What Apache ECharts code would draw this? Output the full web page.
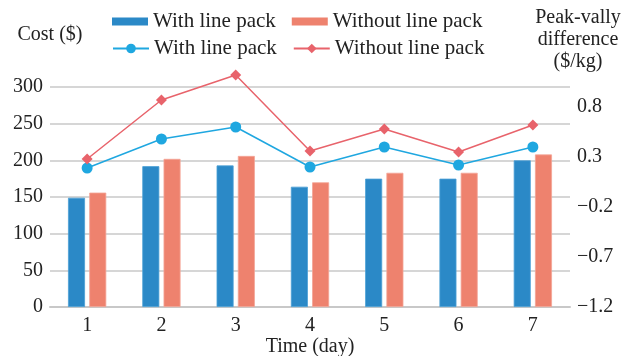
<!DOCTYPE html>
<html>
<head>
<meta charset="utf-8">
<script src="https://cdn.jsdelivr.net/npm/echarts@6/dist/echarts.min.js"></script>
<style>html,body{margin:0;padding:0;background:#fff}#c{width:638px;height:356px}</style>
</head>
<body>
<div id="c"></div>
<script>
var days = ['1','2','3','4','5','6','7'];
var costWith = [149, 192, 193, 164, 175, 175, 200];
var costWithout = [156, 202, 206, 170, 183, 183, 208];
var pvWith = [0.19, 0.48, 0.60, 0.20, 0.40, 0.22, 0.40];
var pvWithout = [0.28, 0.87, 1.12, 0.36, 0.58, 0.35, 0.62];
var legendLabels = {barWith:'With line pack', barWithout:'Without line pack', lineWith:'With line pack', lineWithout:'Without line pack'};

var FONT = 'Liberation Serif';
var TXT = '#222';
var chart = echarts.init(document.getElementById('c'));
chart.setOption({
  animation: false,
  textStyle: {fontFamily: FONT, color: TXT},
  legend: [{
    data: [{name:'barWith', icon:'rect'},{name:'barWithout', icon:'rect'}],
    left: 112, top: 11, padding: 0,
    itemWidth: 36, itemHeight: 8, itemGap: 16,
    itemStyle: {borderWidth: 0},
    formatter: function(n){return legendLabels[n];},
    textStyle: {fontFamily: FONT, fontSize: 21, color: TXT}
  },{
    data: ['lineWith','lineWithout'],
    left: 112, top: 38, padding: 0,
    itemWidth: 36, itemHeight: 12, itemGap: 16,
    formatter: function(n){return legendLabels[n];},
    textStyle: {fontFamily: FONT, fontSize: 21, color: TXT}
  }],
  grid: {left: 50, right: 68, top: 87, bottom: 49, containLabel: false, outerBoundsMode: 'none'},
  xAxis: {
    type: 'category', data: days,
    name: 'Time (day)', nameLocation: 'middle', nameGap: 30, nameMoveOverlap: false,
    nameTextStyle: {fontFamily: FONT, fontSize: 20, color: TXT},
    axisLine: {lineStyle: {color: '#c8c8c8', width: 2}},
    axisTick: {show: false},
    axisLabel: {fontFamily: FONT, fontSize: 20, color: TXT, margin: 9}
  },
  yAxis: [{
    type: 'value', min: 0, max: 300, interval: 50,
    name: 'Cost ($)', nameLocation: 'end', nameGap: 42,
    nameTextStyle: {fontFamily: FONT, fontSize: 20, color: TXT, align: 'center'},
    axisLine: {show: false}, axisTick: {show: false},
    axisLabel: {fontFamily: FONT, fontSize: 20, color: TXT, margin: 7},
    splitLine: {lineStyle: {color: '#c8c8c8', width: 1.5}}
  },{
    type: 'value', min: -1.2, max: 1.0, interval: 0.5,
    name: 'Peak-vally\ndifference\n($/kg)', nameLocation: 'end', nameGap: 14,
    nameTextStyle: {fontFamily: FONT, fontSize: 20, color: TXT, align: 'center', lineHeight: 22, padding: [0,0,0,16]},
    axisLine: {show: false}, axisTick: {show: false},
    axisLabel: {fontFamily: FONT, fontSize: 20, color: TXT, margin: 7, showMaxLabel: false,
      formatter: function(v){return v.toFixed(1).replace('-', '\u2212');}},
    splitLine: {show: false}
  }],
  series: [{
    name: 'barWith', type: 'bar', data: costWith, barWidth: 17, barGap: '25%',
    itemStyle: {color: '#2b89c7', borderColor: '#4a9fd6', borderWidth: 0.8}
  },{
    name: 'barWithout', type: 'bar', data: costWithout, barWidth: 17,
    itemStyle: {color: '#ee826e', borderColor: '#f4a595', borderWidth: 0.8}
  },{
    name: 'lineWith', type: 'line', yAxisIndex: 1, data: pvWith, clip: false,
    symbol: 'circle', symbolSize: 11,
    lineStyle: {color: '#1fa7e0', width: 1.5},
    itemStyle: {color: '#1fa7e0'}
  },{
    name: 'lineWithout', type: 'line', yAxisIndex: 1, data: pvWithout, clip: false,
    symbol: 'diamond', symbolSize: 11,
    lineStyle: {color: '#e8636b', width: 1.5},
    itemStyle: {color: '#e8636b'}
  }]
});
</script>
</body>
</html>
